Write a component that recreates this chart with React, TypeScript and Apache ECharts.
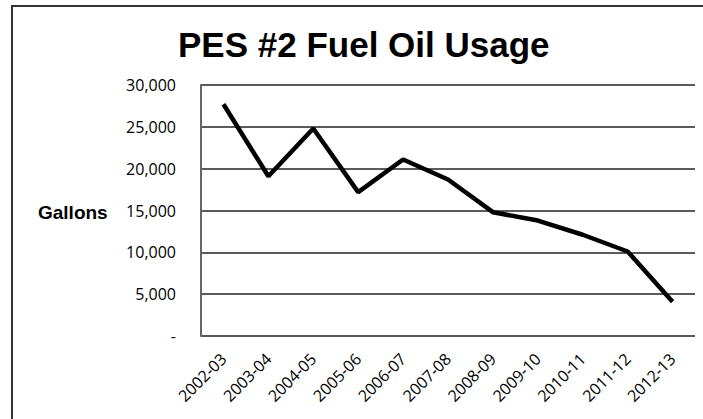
import React, { useEffect, useRef } from "react";
import * as echarts from "echarts";

const categories = [
  "2002-03", "2003-04", "2004-05", "2005-06", "2006-07", "2007-08",
  "2008-09", "2009-10", "2010-11", "2011-12", "2012-13",
];
const gallons = [27700, 19100, 24800, 17200, 21100, 18700, 14800, 13800, 12100, 10100, 4100];
const titleText = "PES #2 Fuel Oil Usage";
const yAxisTitle = "Gallons";

const fmt = (v: number) => (v === 0 ? "-" : v.toLocaleString("en-US"));

export default function App() {
  const ref = useRef<HTMLDivElement>(null);
  useEffect(() => {
    if (!ref.current) return;
    const chart = echarts.init(ref.current, null, { renderer: "svg" });
    chart.setOption({
      animation: false,
      backgroundColor: "#ffffff",
      title: {
        text: titleText,
        left: 173,
        top: 22,
        textStyle: {
          fontFamily: "Liberation Sans",
          fontWeight: "bold",
          fontSize: 35,
          color: "#000",
        },
      },
      grid: { left: 201, right: 8, top: 85, bottom: 83, containLabel: false },
      xAxis: {
        type: "category",
        data: categories,
        boundaryGap: true,
        axisLine: { show: false },
        axisTick: { show: false },
        axisLabel: {
          rotate: 45,
          interval: 0,
          margin: 20,
          fontFamily: "Open Sans",
          fontSize: 16,
          color: "#000",
        },
      },
      yAxis: {
        type: "value",
        min: 0,
        max: 30000,
        interval: 5000,
        axisLine: { show: true, lineStyle: { color: "#666", width: 2 } },
        axisTick: { show: false },
        splitLine: { show: true, lineStyle: { color: "#5a5a5a", width: 2 } },
        axisLabel: {
          formatter: fmt,
          margin: 25,
          fontFamily: "Open Sans",
          fontSize: 16,
          color: "#000",
        },
      },
      graphic: [
        {
          type: "rect",
          shape: { x: 12, y: 6, width: 720, height: 440 },
          style: { fill: "none", stroke: "#333", lineWidth: 2 },
          silent: true,
        },
        {
          type: "text",
          x: 38,
          y: 212,
          style: {
            text: yAxisTitle,
            fontFamily: "Liberation Sans",
            fontWeight: "bold",
            fontSize: 19,
            fill: "#000",
            verticalAlign: "middle",
          },
        },
      ],
      series: [
        {
          type: "line",
          data: gallons,
          symbol: "none",
          lineStyle: { color: "#000", width: 4.5 },
        },
      ],
    });
    return () => chart.dispose();
  }, []);
  return (
    <div
      ref={ref}
      style={{ position: "fixed", left: 0, top: 0, width: 703, height: 419 }}
    />
  );
}
